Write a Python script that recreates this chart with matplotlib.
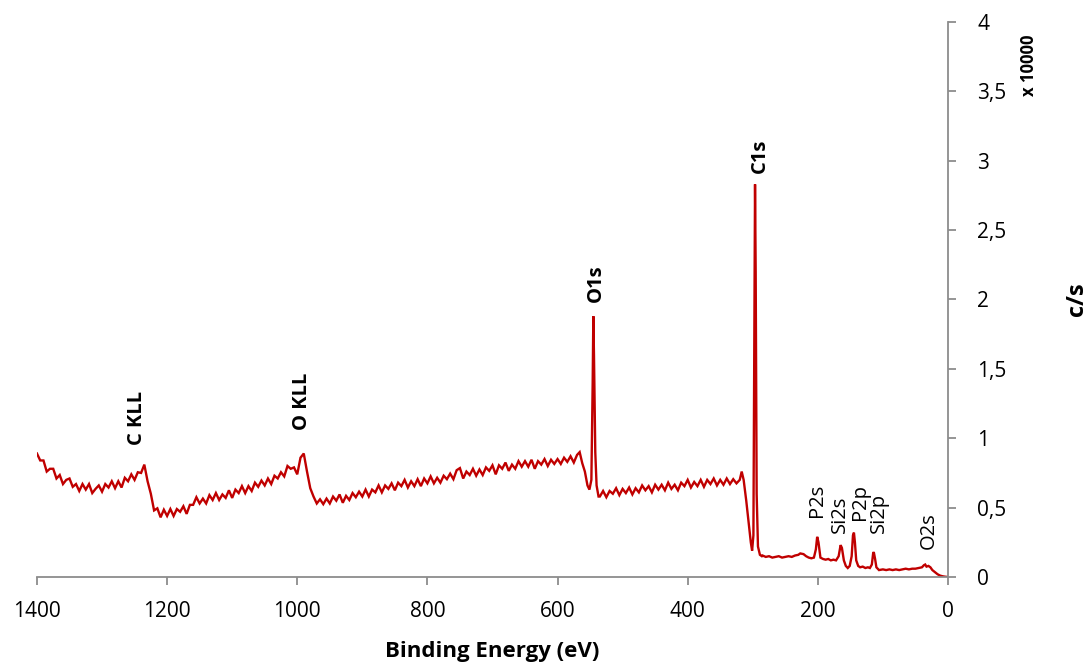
import numpy as np
import matplotlib
matplotlib.use("Agg")
import matplotlib.pyplot as plt
from matplotlib.ticker import FuncFormatter

plt.rcParams['font.family'] = ['Open Sans', 'DejaVu Sans']

# --- spectrum (counts in units of 10000 c/s) ---
# noisy high-energy part, 1400 -> 570 eV every 5 eV
energy_high = np.arange(1400, 569, -5)
counts_high = [
    0.89, 0.84, 0.84, 0.76, 0.78, 0.78, 0.71, 0.735, 0.67, 0.70,
    0.71, 0.65, 0.67, 0.62, 0.67, 0.63, 0.67, 0.605, 0.635, 0.66,
    0.615, 0.67, 0.645, 0.69, 0.64, 0.69, 0.645, 0.715, 0.69, 0.74,
    0.70, 0.755, 0.75, 0.81, 0.69, 0.60, 0.48, 0.495, 0.43, 0.485,
    0.44, 0.49, 0.44, 0.49, 0.47, 0.51, 0.455, 0.52, 0.52, 0.575,
    0.53, 0.565, 0.53, 0.59, 0.555, 0.605, 0.555, 0.595, 0.57, 0.625,
    0.57, 0.63, 0.605, 0.655, 0.605, 0.655, 0.62, 0.68, 0.65, 0.695,
    0.66, 0.71, 0.67, 0.73, 0.71, 0.755, 0.725, 0.80, 0.78, 0.79,
    0.74, 0.86, 0.89, 0.76, 0.64, 0.58, 0.53, 0.56, 0.525, 0.565,
    0.53, 0.58, 0.55, 0.595, 0.535, 0.585, 0.555, 0.605, 0.575, 0.615,
    0.58, 0.63, 0.58, 0.63, 0.61, 0.66, 0.61, 0.66, 0.635, 0.675,
    0.625, 0.68, 0.655, 0.70, 0.645, 0.69, 0.655, 0.705, 0.655, 0.71,
    0.675, 0.725, 0.675, 0.715, 0.68, 0.73, 0.705, 0.745, 0.705, 0.77,
    0.785, 0.71, 0.76, 0.735, 0.78, 0.73, 0.775, 0.735, 0.79, 0.765,
    0.805, 0.74, 0.805, 0.78, 0.825, 0.765, 0.81, 0.78, 0.835, 0.795,
    0.835, 0.795, 0.845, 0.78, 0.835, 0.81, 0.85, 0.80, 0.845, 0.815,
    0.85, 0.815, 0.86, 0.83, 0.87, 0.825, 0.88,
]

# O1s region
energy_o1s = [566, 562, 558, 554, 551, 548, 546, 545, 544, 542, 540, 537]
counts_o1s = [0.90, 0.82, 0.76, 0.66, 0.63, 0.70, 1.40, 1.88, 1.60, 0.90, 0.66, 0.58]

# plateau between O1s and C1s, 535 -> 320 eV every 5 eV
energy_mid = np.arange(535, 319, -5)
counts_mid = [
    0.58, 0.62, 0.575, 0.62, 0.60, 0.64, 0.59, 0.635, 0.605, 0.645,
    0.595, 0.64, 0.61, 0.66, 0.625, 0.655, 0.61, 0.665, 0.63, 0.665,
    0.625, 0.68, 0.635, 0.665, 0.625, 0.68, 0.655, 0.70, 0.645, 0.685,
    0.655, 0.70, 0.65, 0.70, 0.67, 0.71, 0.66, 0.70, 0.665, 0.71,
    0.67, 0.705, 0.675, 0.70,
]

# C1s region
energy_c1s = [317, 314, 310, 306, 303, 301, 299, 297.5, 296.5, 295.5, 294, 292, 289, 286]
counts_c1s = [0.76, 0.70, 0.55, 0.38, 0.25, 0.19, 0.30, 1.80, 2.83, 2.20, 0.60, 0.22, 0.16, 0.15]

# low binding energy part (P, Si, O2s)
energy_low = [285, 280, 275, 270, 265, 260, 255, 250, 245, 240, 235, 230, 227, 222,
              218, 214, 210, 206, 203, 201, 199, 196, 192, 188, 184, 180, 176, 172,
              168, 165, 163, 160, 157, 154, 151, 148, 146, 144.5, 143, 141, 138, 135,
              131, 127, 123, 120, 117, 115, 114, 112, 110, 106, 100, 95, 90, 85, 80,
              75, 70, 65, 60, 55, 50, 45, 40, 37, 35, 33, 30, 27, 24, 20, 16, 12, 8, 4, 0]
counts_low = [0.155, 0.145, 0.15, 0.14, 0.145, 0.15, 0.14, 0.145, 0.15, 0.145, 0.155, 0.16, 0.17, 0.165,
              0.15, 0.14, 0.135, 0.14, 0.20, 0.29, 0.25, 0.14, 0.13, 0.125, 0.13, 0.12, 0.125, 0.12,
              0.15, 0.23, 0.21, 0.12, 0.08, 0.065, 0.08, 0.15, 0.30, 0.32, 0.25, 0.12, 0.08, 0.07,
              0.075, 0.065, 0.07, 0.065, 0.09, 0.17, 0.18, 0.13, 0.07, 0.05, 0.055, 0.05, 0.055, 0.05, 0.055,
              0.05, 0.055, 0.06, 0.055, 0.06, 0.06, 0.065, 0.07, 0.085, 0.09, 0.075, 0.08, 0.07, 0.05, 0.035, 0.02, 0.01, 0.005, 0.002, 0.0]

# peak labels
peak_names = ['C KLL', 'O KLL', 'O1s', 'C1s', 'P2s', 'Si2s', 'P2p', 'Si2p', 'O2s']
peak_energy = [1246, 993, 541, 289, 201, 166, 135, 106, 29]
peak_label_base = [0.95, 1.06, 1.98, 2.91, 0.43, 0.32, 0.41, 0.32, 0.20]
peak_bold = [True, True, True, True, False, False, False, False, False]

energy = np.concatenate([energy_high, energy_o1s, energy_mid, energy_c1s, energy_low])
counts = np.concatenate([counts_high, counts_o1s, counts_mid, counts_c1s, counts_low])

fig = plt.figure(figsize=(10.87, 6.64), dpi=100)
ax = fig.add_axes([0.034, 0.131, 0.8381, 0.8359])

ax.plot(energy, counts, color='#C00000', linewidth=1.7, solid_joinstyle='miter')

ax.set_xlim(1400, 0)
ax.set_ylim(0, 4)
ax.set_xticks(np.arange(0, 1401, 200))
ax.set_yticks(np.arange(0, 4.01, 0.5))
ax.yaxis.set_major_formatter(FuncFormatter(lambda v, p: ('%g' % v).replace('.', ',')))

ax.yaxis.tick_right()
ax.yaxis.set_label_position('right')
for side in ['top', 'left']:
    ax.spines[side].set_visible(False)
for side in ['bottom', 'right']:
    ax.spines[side].set_color('#8c8c8c')
    ax.spines[side].set_linewidth(1.3)
ax.tick_params(axis='both', colors='#8c8c8c', labelcolor='black', labelsize=15,
               length=6, width=1.3, direction='out')
ax.tick_params(axis='x', pad=11)
ax.tick_params(axis='y', pad=15)

ax.set_xlabel('Binding Energy (eV)', fontsize=16, fontweight='bold', labelpad=14)
ax.set_ylabel('c/s', fontsize=17, fontweight='bold', labelpad=42)
fig.text(0.947, 0.902, 'x 10000', rotation=90, fontsize=12, fontweight='bold',
         ha='center', va='center')

for name, e, base, bold in zip(peak_names, peak_energy, peak_label_base, peak_bold):
    ax.text(e, base, name, rotation=90, ha='center', va='bottom', fontsize=14.5,
            fontweight='bold' if bold else 'normal')

fig.savefig('out.png', dpi=100)
